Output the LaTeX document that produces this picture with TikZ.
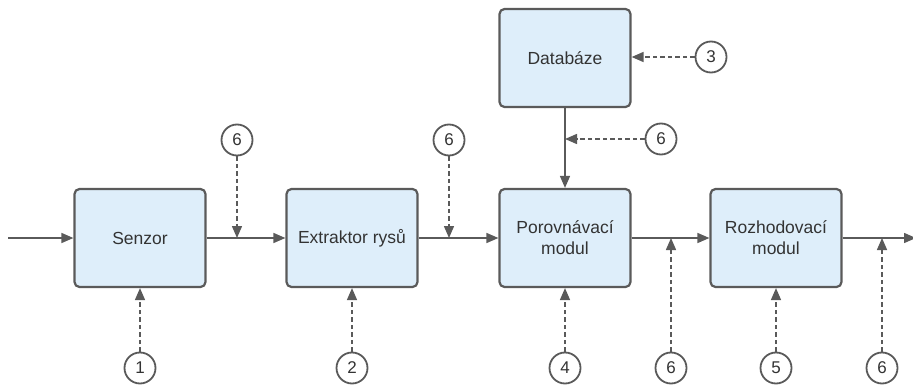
\documentclass[tikz,border=0pt]{standalone}
\usepackage{fontspec}
\setmainfont{Liberation Sans}
\usetikzlibrary{arrows.meta}
\definecolor{boxfill}{HTML}{DEEEFA}
\definecolor{edge}{HTML}{5A5A5A}
\definecolor{txt}{HTML}{333333}
\tikzset{
  blk/.style={draw=edge, line width=2.2pt, fill=boxfill, rounded corners=5pt, minimum width=131pt, minimum height=98pt, align=center, text=txt, font=\fontsize{17.5}{21}\selectfont, inner sep=0pt},
  num/.style={circle, draw=edge, line width=1.8pt, fill=white, minimum size=31pt, inner sep=0pt, text=txt, font=\fontsize{17}{20}\selectfont},
  flow/.style={draw=edge, line width=1.5pt, -{Triangle[length=12pt,width=10pt]}},
  ctl/.style={draw=edge, line width=1.5pt, dash pattern=on 4.5pt off 3pt, -{Triangle[length=12pt,width=10pt]}}
}
\begin{document}
\begin{tikzpicture}[x=1pt,y=-1pt]
\useasboundingbox (0,0) rectangle (913,385);
\node[blk] (sen) at (140,238) {Senzor};
\node[blk] (ext) at (352,238) {Extraktor rysů};
\node[blk] (por) at (565,238) {Porovnávací\\modul};
\node[blk] (roz) at (776,238) {Rozhodovací\\modul};
\node[blk] (db) at (565,58) {Databáze};
\coordinate (in) at (8,238);
\coordinate (out) at (916,238);
\draw[flow] (in) -- (sen);
\draw[flow] (sen) -- (ext);
\draw[flow] (ext) -- (por);
\draw[flow] (por) -- (roz);
\draw[flow] (roz) -- (out);
\draw[flow] (db) -- (por);
\node[num] (n1) at (140,368) {1};
\node[num] (n2) at (352,368) {2};
\node[num] (n4) at (565,368) {4};
\node[num] (n6a) at (671,368) {6};
\node[num] (n5) at (776,368) {5};
\node[num] (n6b) at (882,368) {6};
\node[num] (n6c) at (237,140) {6};
\node[num] (n6d) at (449,140) {6};
\node[num] (n6e) at (661,139) {6};
\node[num] (n3) at (711,57) {3};
\coordinate (c6a) at (671,238);
\coordinate (c6b) at (882,238);
\coordinate (c6c) at (237,238);
\coordinate (c6d) at (449,238);
\coordinate (c6e) at (565,139);
\draw[ctl] (n1) -- (sen);
\draw[ctl] (n2) -- (ext);
\draw[ctl] (n4) -- (por);
\draw[ctl] (n5) -- (roz);
\draw[ctl] (n6a) -- (c6a);
\draw[ctl] (n6b) -- (c6b);
\draw[ctl] (n6c) -- (c6c);
\draw[ctl] (n6d) -- (c6d);
\draw[ctl] (n6e) -- (c6e);
\draw[ctl] (n3) -- (db.east |- n3);
\end{tikzpicture}
\end{document}
